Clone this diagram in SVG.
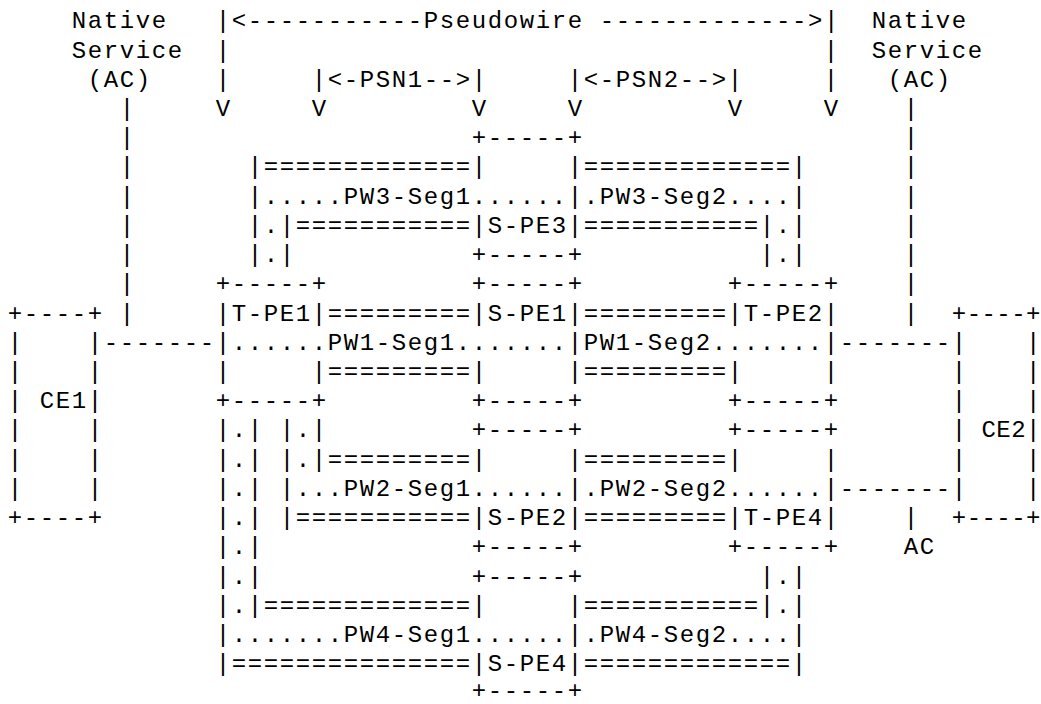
<svg xmlns="http://www.w3.org/2000/svg" width="1041" height="704" viewBox="0 0 1041 704" xml:space="preserve">
<style>
text { font-family: "Liberation Mono", "DejaVu Sans Mono", monospace; font-size: 24px; letter-spacing: 1.6px; fill: #000; white-space: pre; }
#ce2 text { letter-spacing: 0.45px; }
</style>
<rect x="0" y="0" width="1041" height="704" fill="#fff"/>
<g transform="translate(0.8,0)">
<g id="label-left">
<text x="71" y="28.3">Native</text>
<text x="71" y="57.5">Service</text>
<text x="87" y="86.7">(AC)</text>
</g>
<g id="label-right">
<text x="871" y="28.3">Native</text>
<text x="871" y="57.5">Service</text>
<text x="887" y="86.7">(AC)</text>
</g>
<g id="label-ac">
<text x="903" y="554.3">AC</text>
</g>
<g id="span-pseudowire">
<text x="215" y="28.3">|&lt;-----------Pseudowire -------------&gt;|</text>
<text x="215" y="57.5">|</text><text x="823" y="57.5">|</text>
<text x="215" y="86.7">|</text><text x="823" y="86.7">|</text>
<text x="215" y="116">V</text><text x="823" y="116">V</text>
</g>
<g id="span-psn1">
<text x="311" y="86.7">|&lt;-PSN1--&gt;|</text>
<text x="311" y="116">V</text><text x="471" y="116">V</text>
</g>
<g id="span-psn2">
<text x="567" y="86.7">|&lt;-PSN2--&gt;|</text>
<text x="567" y="116">V</text><text x="727" y="116">V</text>
</g>
<g id="ce1">
<text x="7" y="320.5">+----+</text>
<text x="7" y="349.7">|    |</text>
<text x="7" y="378.9">|    |</text>
<text x="7" y="408.2">| CE1|</text>
<text x="7" y="437.4">|    |</text>
<text x="7" y="466.6">|    |</text>
<text x="7" y="495.8">|    |</text>
<text x="7" y="525">+----+</text>
</g>
<g id="ce2">
<text x="951" y="320.5">+----+</text>
<text x="951" y="349.7">|    |</text>
<text x="951" y="378.9">|    |</text>
<text x="951" y="408.2">|    |</text>
<text x="951" y="437.4">| CE2|</text>
<text x="951" y="466.6">|    |</text>
<text x="951" y="495.8">|    |</text>
<text x="951" y="525">+----+</text>
</g>
<g id="t-pe1">
<text x="215" y="291.3">+-----+</text>
<text x="215" y="320.5">|T-PE1|</text>
<text x="215" y="349.7">|</text>
<text x="215" y="378.9">|     |</text>
<text x="215" y="408.2">+-----+</text>
</g>
<g id="s-pe1">
<text x="471" y="291.3">+-----+</text>
<text x="471" y="320.5">|S-PE1|</text>
<text x="567" y="349.7">|</text>
<text x="471" y="378.9">|     |</text>
<text x="471" y="408.2">+-----+</text>
</g>
<g id="t-pe2">
<text x="727" y="291.3">+-----+</text>
<text x="727" y="320.5">|T-PE2|</text>
<text x="823" y="349.7">|</text>
<text x="727" y="378.9">|     |</text>
<text x="727" y="408.2">+-----+</text>
</g>
<g id="s-pe3">
<text x="471" y="145.2">+-----+</text>
<text x="471" y="174.4">|     |</text>
<text x="567" y="203.6">|</text>
<text x="471" y="232.8">|S-PE3|</text>
<text x="471" y="262.1">+-----+</text>
</g>
<g id="s-pe2">
<text x="471" y="437.4">+-----+</text>
<text x="471" y="466.6">|     |</text>
<text x="567" y="495.8">|</text>
<text x="471" y="525">|S-PE2|</text>
<text x="471" y="554.3">+-----+</text>
</g>
<g id="t-pe4">
<text x="727" y="437.4">+-----+</text>
<text x="727" y="466.6">|     |</text>
<text x="823" y="495.8">|</text>
<text x="727" y="525">|T-PE4|</text>
<text x="727" y="554.3">+-----+</text>
</g>
<g id="s-pe4">
<text x="471" y="583.5">+-----+</text>
<text x="471" y="612.7">|     |</text>
<text x="567" y="641.9">|</text>
<text x="471" y="671.1">|S-PE4|</text>
<text x="471" y="698.4">+-----+</text>
</g>
<g id="connectors">
<g id="ac-left">
<text x="119" y="116">|</text>
<text x="119" y="145.2">|</text>
<text x="119" y="174.4">|</text>
<text x="119" y="203.6">|</text>
<text x="119" y="232.8">|</text>
<text x="119" y="262.1">|</text>
<text x="119" y="291.3">|</text>
<text x="119" y="320.5">|</text>
<text x="103" y="349.7">-------</text>
</g>
<g id="ac-right">
<text x="903" y="116">|</text>
<text x="903" y="145.2">|</text>
<text x="903" y="174.4">|</text>
<text x="903" y="203.6">|</text>
<text x="903" y="232.8">|</text>
<text x="903" y="262.1">|</text>
<text x="903" y="291.3">|</text>
<text x="903" y="320.5">|</text>
<text x="839" y="349.7">-------</text>
</g>
<g id="ac-bottom">
<text x="839" y="495.8">-------</text>
<text x="903" y="525">|</text>
</g>
<g id="pw3">
<text x="247" y="174.4">|=============</text>
<text x="247" y="203.6">|.....PW3-Seg1......</text>
<text x="247" y="232.8">|.|===========</text>
<text x="247" y="262.1">|.|</text>
<text x="583" y="174.4">=============|</text>
<text x="583" y="203.6">.PW3-Seg2....|</text>
<text x="583" y="232.8">===========|.|</text>
<text x="759" y="262.1">|.|</text>
</g>
<g id="pw1">
<text x="327" y="320.5">=========</text>
<text x="583" y="320.5">=========</text>
<text x="231" y="349.7">......PW1-Seg1.......</text>
<text x="583" y="349.7">PW1-Seg2.......</text>
<text x="327" y="378.9">=========</text>
<text x="583" y="378.9">=========</text>
</g>
<g id="pw2">
<text x="279" y="437.4">|.|</text>
<text x="279" y="466.6">|.|=========</text>
<text x="279" y="495.8">|...PW2-Seg1......</text>
<text x="279" y="525">|===========</text>
<text x="583" y="466.6">=========</text>
<text x="583" y="495.8">.PW2-Seg2......</text>
<text x="583" y="525">=========</text>
</g>
<g id="pw4">
<text x="215" y="437.4">|.|</text>
<text x="215" y="466.6">|.|</text>
<text x="215" y="495.8">|.|</text>
<text x="215" y="525">|.|</text>
<text x="215" y="554.3">|.|</text>
<text x="215" y="583.5">|.|</text>
<text x="215" y="612.7">|.|=============</text>
<text x="215" y="641.9">|.......PW4-Seg1......</text>
<text x="215" y="671.1">|===============</text>
<text x="759" y="583.5">|.|</text>
<text x="583" y="612.7">===========|.|</text>
<text x="583" y="641.9">.PW4-Seg2....|</text>
<text x="583" y="671.1">=============|</text>
</g>
</g>
</g>
</svg>
